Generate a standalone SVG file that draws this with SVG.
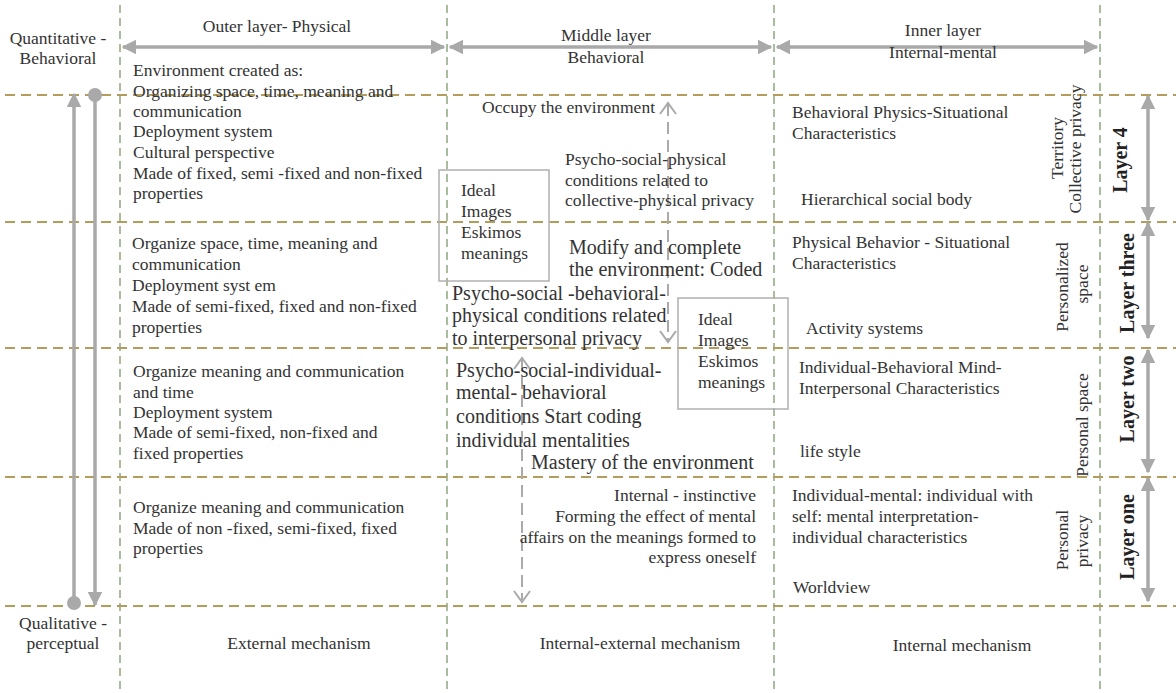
<svg xmlns="http://www.w3.org/2000/svg" width="1176" height="693" viewBox="0 0 1176 693">
<style>
text{font-family:"Liberation Serif","Times New Roman",serif;font-size:17.5px;fill:#333}
.big{font-size:20px}
.bold{font-weight:bold;font-size:20px;fill:#222}
.mid{text-anchor:middle}
.end{text-anchor:end}
.hline{stroke:#b39c5c;stroke-width:2;stroke-dasharray:10 6;fill:none}
.vline{stroke:#8ea67f;stroke-width:1.5;stroke-dasharray:8 5;fill:none}
.arr{stroke:#a9a9a9;stroke-width:3.5;fill:none}
.dash{stroke:#aaa;stroke-width:2;stroke-dasharray:12 6;fill:none}
.open{stroke:#aaa;stroke-width:2;fill:none}
.box{stroke:#b0b0b0;stroke-width:1.5;fill:none}
</style>
<defs>
<marker id="ah" viewBox="0 0 10 10" refX="9" refY="5" markerWidth="4.2" markerHeight="4.2" orient="auto-start-reverse" markerUnits="strokeWidth">
<path d="M0,0 L10,5 L0,10 z" fill="#a9a9a9"/>
</marker>
</defs>
<rect width="1176" height="693" fill="#fff"/>

<g id="grid">
<line class="vline" x1="120" y1="5" x2="120" y2="693"/>
<line class="vline" x1="447" y1="5" x2="447" y2="693"/>
<line class="vline" x1="774" y1="5" x2="774" y2="693"/>
<line class="vline" x1="1100" y1="5" x2="1100" y2="693"/>
<line class="hline" x1="5" y1="95" x2="1176" y2="95"/>
<line class="hline" x1="5" y1="222" x2="1176" y2="222"/>
<line class="hline" x1="5" y1="348" x2="1176" y2="348"/>
<line class="hline" x1="5" y1="477" x2="1176" y2="477"/>
<line class="hline" x1="5" y1="606" x2="1176" y2="606"/>
</g>

<g id="connectors">
<line class="arr" x1="123" y1="47" x2="444" y2="47" marker-start="url(#ah)" marker-end="url(#ah)"/>
<line class="arr" x1="450" y1="47" x2="771" y2="47" marker-start="url(#ah)" marker-end="url(#ah)"/>
<line class="arr" x1="777" y1="47" x2="1097" y2="47" marker-start="url(#ah)" marker-end="url(#ah)"/>
<line class="arr" x1="74" y1="603" x2="74" y2="94" marker-end="url(#ah)"/>
<circle cx="74" cy="603" r="7" fill="#a9a9a9"/>
<line class="arr" x1="95" y1="95" x2="95" y2="605" marker-end="url(#ah)"/>
<circle cx="95" cy="95" r="7" fill="#a9a9a9"/>
<line class="arr" x1="1148" y1="96" x2="1148" y2="220" marker-start="url(#ah)" marker-end="url(#ah)"/>
<line class="arr" x1="1148" y1="223" x2="1148" y2="338" marker-start="url(#ah)" marker-end="url(#ah)"/>
<line class="arr" x1="1148" y1="350" x2="1148" y2="472" marker-start="url(#ah)" marker-end="url(#ah)"/>
<line class="arr" x1="1148" y1="478" x2="1148" y2="601" marker-start="url(#ah)" marker-end="url(#ah)"/>
<line class="dash" x1="668" y1="104" x2="668" y2="341"/>
<polyline class="open" points="660,114 668,103 676,114"/>
<polyline class="open" points="660,331 668,342 676,331"/>
<line class="dash" x1="522" y1="359" x2="522" y2="600"/>
<polyline class="open" points="514,369 522,358 530,369"/>
<polyline class="open" points="514,591 522,602 530,591"/>
</g>

<g id="axis-labels">
<text class="mid" x="58" y="44">Quantitative -</text>
<text class="mid" x="58" y="64">Behavioral</text>
<text class="mid" x="63" y="629">Qualitative -</text>
<text class="mid" x="63" y="649">perceptual</text>
</g>

<g id="header-outer"><text class="mid" x="277" y="32">Outer layer- Physical</text></g>
<g id="header-middle">
<text class="mid" x="606" y="41">Middle layer</text>
<text class="mid" x="606" y="63">Behavioral</text>
</g>
<g id="header-inner">
<text class="mid" x="943" y="36">Inner layer</text>
<text class="mid" x="943" y="58">Internal-mental</text>
</g>

<g id="outer-layer4">
<text x="133" y="76">Environment created as:</text>
<text x="133" y="97">Organizing space, time, meaning and</text>
<text x="133" y="117">communication</text>
<text x="133" y="137">Deployment system</text>
<text x="133" y="158">Cultural perspective</text>
<text x="133" y="179">Made of fixed, semi -fixed and non-fixed</text>
<text x="133" y="199">properties</text>
</g>
<g id="outer-layer3">
<text x="132" y="249">Organize space, time, meaning and</text>
<text x="132" y="270">communication</text>
<text x="132" y="291">Deployment syst em</text>
<text x="132" y="312">Made of semi-fixed, fixed and non-fixed</text>
<text x="132" y="333">properties</text>
</g>
<g id="outer-layer2">
<text x="133" y="377">Organize meaning and communication</text>
<text x="133" y="398">and time</text>
<text x="133" y="418">Deployment system</text>
<text x="133" y="438">Made of semi-fixed, non-fixed and</text>
<text x="133" y="459">fixed properties</text>
</g>
<g id="outer-layer1">
<text x="133" y="513">Organize meaning and communication</text>
<text x="133" y="534">Made of non -fixed, semi-fixed, fixed</text>
<text x="133" y="554">properties</text>
</g>
<g id="outer-mechanism"><text class="mid" x="299" y="649">External mechanism</text></g>

<g id="middle-layer4">
<text x="482" y="113">Occupy the environment</text>
<text x="565" y="165">Psycho-social-physical</text>
<text x="565" y="186">conditions related to</text>
<text x="565" y="206">collective-physical privacy</text>
</g>
<g id="box-ideal-1">
<rect class="box" x="439" y="170" width="110" height="111"/>
<text x="461" y="196">Ideal</text>
<text x="461" y="217">Images</text>
<text x="461" y="238">Eskimos</text>
<text x="461" y="259">meanings</text>
</g>
<g id="middle-layer3">
<text class="big" x="569" y="254">Modify and complete</text>
<text class="big" x="569" y="276">the environment: Coded</text>
<text class="big" x="452" y="300">Psycho-social -behavioral-</text>
<text class="big" x="452" y="322">physical conditions related</text>
<text class="big" x="452" y="345">to interpersonal privacy</text>
</g>
<g id="box-ideal-2">
<rect class="box" x="678" y="298" width="110" height="111"/>
<text x="698" y="325">Ideal</text>
<text x="698" y="346">Images</text>
<text x="698" y="367">Eskimos</text>
<text x="698" y="388">meanings</text>
</g>
<g id="middle-layer2">
<text class="big" x="456" y="377">Psycho-social-individual-</text>
<text class="big" x="456" y="399">mental- behavioral</text>
<text class="big" x="456" y="423">conditions Start coding</text>
<text class="big" x="456" y="447">individual mentalities</text>
<text class="big" x="531" y="469">Mastery of the environment</text>
</g>
<g id="middle-layer1">
<text class="end" x="756" y="501">Internal - instinctive</text>
<text class="end" x="756" y="522">Forming the effect of mental</text>
<text class="end" x="756" y="543">affairs on the meanings formed to</text>
<text class="end" x="756" y="563">express oneself</text>
</g>
<g id="middle-mechanism"><text class="mid" x="640" y="649">Internal-external mechanism</text></g>

<g id="inner-layer4">
<text x="792" y="118">Behavioral Physics-Situational</text>
<text x="792" y="139">Characteristics</text>
<text x="801" y="205">Hierarchical social body</text>
</g>
<g id="inner-layer3">
<text x="792" y="248">Physical Behavior - Situational</text>
<text x="792" y="269">Characteristics</text>
<text x="806" y="334">Activity systems</text>
</g>
<g id="inner-layer2">
<text x="799" y="373">Individual-Behavioral Mind-</text>
<text x="799" y="394">Interpersonal Characteristics</text>
<text x="800" y="457">life style</text>
</g>
<g id="inner-layer1">
<text x="792" y="501">Individual-mental: individual with</text>
<text x="792" y="522">self: mental interpretation-</text>
<text x="792" y="543">individual characteristics</text>
<text x="793" y="593">Worldview</text>
</g>
<g id="inner-mechanism"><text class="mid" x="962" y="651">Internal mechanism</text></g>

<g id="privacy-labels">
<text class="mid" transform="translate(1063,148) rotate(-90)">Territory</text>
<text class="mid" transform="translate(1081,149) rotate(-90)">Collective privacy</text>
<text class="mid" transform="translate(1068,287) rotate(-90)">Personalized</text>
<text class="mid" transform="translate(1088,284) rotate(-90)">space</text>
<text class="mid" transform="translate(1088,425) rotate(-90)">Personal space</text>
<text class="mid" transform="translate(1068,540) rotate(-90)">Personal</text>
<text class="mid" transform="translate(1088,541) rotate(-90)">privacy</text>
</g>

<g id="layer-labels">
<text class="bold mid" transform="translate(1127,160) rotate(-90)">Layer 4</text>
<text class="bold mid" transform="translate(1134,283) rotate(-90)">Layer three</text>
<text class="bold mid" transform="translate(1134,399) rotate(-90)">Layer two</text>
<text class="bold mid" transform="translate(1134,537) rotate(-90)">Layer one</text>
</g>
</svg>
